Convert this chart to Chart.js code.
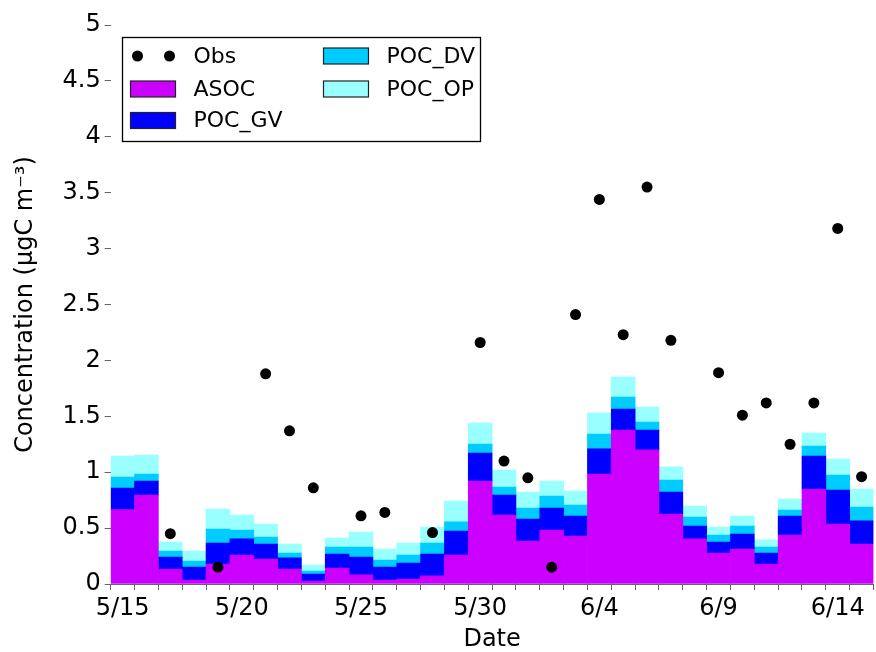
<!DOCTYPE html>
<html>
<head>
<meta charset="utf-8">
<script src="https://cdn.jsdelivr.net/npm/chart.js@4.4.1/dist/chart.umd.min.js"></script>
<style>
  html, body { margin: 0; padding: 0; overflow: hidden; background: #fff; }
  canvas { display: block; }
</style>
</head>
<body>
<canvas id="concChart" width="879" height="652"></canvas>
<script>
const dates = ['5/15', '5/16', '5/17', '5/18', '5/19', '5/20', '5/21', '5/22', '5/23', '5/24',
    '5/25', '5/26', '5/27', '5/28', '5/29', '5/30', '5/31', '6/1', '6/2', '6/3', '6/4', '6/5',
    '6/6', '6/7', '6/8', '6/9', '6/10', '6/11', '6/12', '6/13', '6/14', '6/15'];
const labelledDates = ['5/15', '5/20', '5/25', '5/30', '6/4', '6/9', '6/14'];

const asoc = [0.665, 0.796, 0.134, 0.036, 0.179, 0.259, 0.224, 0.134, 0.027, 0.143,
    0.081, 0.036, 0.045, 0.072, 0.259, 0.921, 0.617, 0.385, 0.483, 0.429, 0.984, 1.377,
    1.199, 0.626, 0.403, 0.277, 0.313, 0.179, 0.438, 0.850, 0.537, 0.358];
const pocGV = [0.194, 0.125, 0.107, 0.116, 0.188, 0.144, 0.134, 0.099, 0.062, 0.125,
    0.160, 0.116, 0.143, 0.196, 0.215, 0.251, 0.179, 0.196, 0.197, 0.179, 0.224, 0.188,
    0.178, 0.197, 0.116, 0.099, 0.134, 0.098, 0.170, 0.295, 0.304, 0.206];
const pocDV = [0.098, 0.063, 0.054, 0.054, 0.125, 0.080, 0.062, 0.044, 0.027, 0.063,
    0.090, 0.063, 0.071, 0.099, 0.081, 0.080, 0.072, 0.099, 0.107, 0.099, 0.134, 0.108,
    0.072, 0.107, 0.080, 0.062, 0.072, 0.054, 0.054, 0.089, 0.134, 0.125];
const pocOP = [0.188, 0.170, 0.081, 0.089, 0.179, 0.134, 0.117, 0.081, 0.054, 0.080,
    0.134, 0.098, 0.108, 0.143, 0.187, 0.188, 0.152, 0.143, 0.134, 0.125, 0.188, 0.179,
    0.134, 0.117, 0.099, 0.072, 0.089, 0.063, 0.098, 0.117, 0.143, 0.161];
const obs = [null, null, 0.45, null, 0.15, null, 1.88, 1.37, 0.86, null,
    0.61, 0.64, null, 0.46, null, 2.16, 1.10, 0.95, 0.15, 2.41, 3.44, 2.23,
    3.55, 2.18, null, 1.89, 1.51, 1.62, 1.25, 1.62, 3.18, 0.96];

const FONT = 'DejaVu Sans';
const axisGray = '#666';

// matplotlib-style legend box drawn inside the plot, two columns
const boxLegend = {
    id: 'boxLegend',
    afterDatasetsDraw(chart) {
        const { ctx, chartArea } = chart;
        const x0 = Math.round(chartArea.left + 11) + 0.5;
        const y0 = Math.round(chartArea.top + 12) + 0.5;
        const w = 358, h = 104;
        ctx.save();
        ctx.fillStyle = '#fff';
        ctx.fillRect(x0, y0, w, h);
        ctx.strokeStyle = '#000';
        ctx.lineWidth = 1.3;
        ctx.strokeRect(x0, y0, w, h);

        ctx.font = '22px "' + FONT + '"';
        ctx.textBaseline = 'middle';
        ctx.fillStyle = '#000';

        const cols = [8, 201];
        const rows = [18.5, 51.5, 83];
        chart.data.datasets.forEach((ds, i) => {
            const col = cols[Math.floor(i / 3)];
            const cy = y0 + rows[i % 3];
            const sx = x0 + col;
            if (ds.type === 'line') {
                ctx.fillStyle = '#000';
                [sx + 7, sx + 39].forEach(px => {
                    ctx.beginPath();
                    ctx.arc(px, cy, 5.5, 0, Math.PI * 2);
                    ctx.fill();
                });
            } else {
                ctx.fillStyle = ds.backgroundColor;
                ctx.fillRect(sx, cy - 8, 45, 16);
                ctx.strokeStyle = '#222';
                ctx.lineWidth = 1.2;
                ctx.strokeRect(sx, cy - 8, 45, 16);
            }
            ctx.fillStyle = '#000';
            ctx.fillText(ds.label, sx + 63, cy + 1);
        });
        ctx.restore();
    }
};

const barDefaults = {
    type: 'bar',
    stack: 'model',
    order: 1,
    barPercentage: 1.0,
    categoryPercentage: 1.0,
    borderWidth: 0
};

new Chart(document.getElementById('concChart').getContext('2d'), {
    data: {
        labels: dates,
        datasets: [
            {
                type: 'line',
                label: 'Obs',
                data: obs,
                showLine: false,
                stack: 'obs',
                order: 0,
                pointRadius: 5.5,
                pointHoverRadius: 5.5,
                pointBorderWidth: 0,
                pointBackgroundColor: '#000',
                backgroundColor: '#000'
            },
            { ...barDefaults, label: 'ASOC', data: asoc, backgroundColor: '#cc00ff' },
            { ...barDefaults, label: 'POC_GV', data: pocGV, backgroundColor: '#0000ff' },
            { ...barDefaults, label: 'POC_DV', data: pocDV, backgroundColor: '#00ccff' },
            { ...barDefaults, label: 'POC_OP', data: pocOP, backgroundColor: '#99ffff' }
        ]
    },
    options: {
        responsive: false,
        animation: false,
        devicePixelRatio: 1,
        layout: { padding: { top: 25, left: 0, right: 0, bottom: 0 } },
        plugins: {
            legend: { display: false },
            tooltip: { enabled: false }
        },
        scales: {
            x: {
                stacked: true,
                offset: true,
                afterFit: (scale) => { scale.height = 68; },
                grid: {
                    display: true,
                    drawOnChartArea: false,
                    drawTicks: true,
                    tickLength: 6,
                    color: axisGray
                },
                border: { display: true, color: axisGray, width: 1 },
                ticks: {
                    autoSkip: false,
                    maxRotation: 0,
                    padding: 4,
                    color: '#000',
                    font: { family: FONT, size: 24 },
                    callback: function (value) {
                        const d = dates[value];
                        return labelledDates.includes(d) ? d : '';
                    }
                },
                title: {
                    display: true,
                    text: 'Date',
                    color: '#000',
                    font: { family: FONT, size: 24 },
                    padding: { top: 0, bottom: -2 }
                }
            },
            y: {
                stacked: true,
                min: 0,
                max: 5,
                afterFit: (scale) => { scale.width = 110.7; },
                grid: {
                    display: true,
                    drawOnChartArea: false,
                    drawTicks: true,
                    tickLength: 6,
                    color: axisGray
                },
                border: { display: false },
                ticks: {
                    stepSize: 0.5,
                    padding: 4,
                    color: '#000',
                    font: { family: FONT, size: 24 },
                    callback: (value) => String(Math.round(value * 10) / 10)
                },
                title: {
                    display: true,
                    text: 'Concentration (μgC m⁻³)',
                    color: '#000',
                    font: { family: FONT, size: 24 },
                    padding: { top: 11, bottom: 0 }
                }
            }
        }
    },
    plugins: [boxLegend]
});
</script>
</body>
</html>
